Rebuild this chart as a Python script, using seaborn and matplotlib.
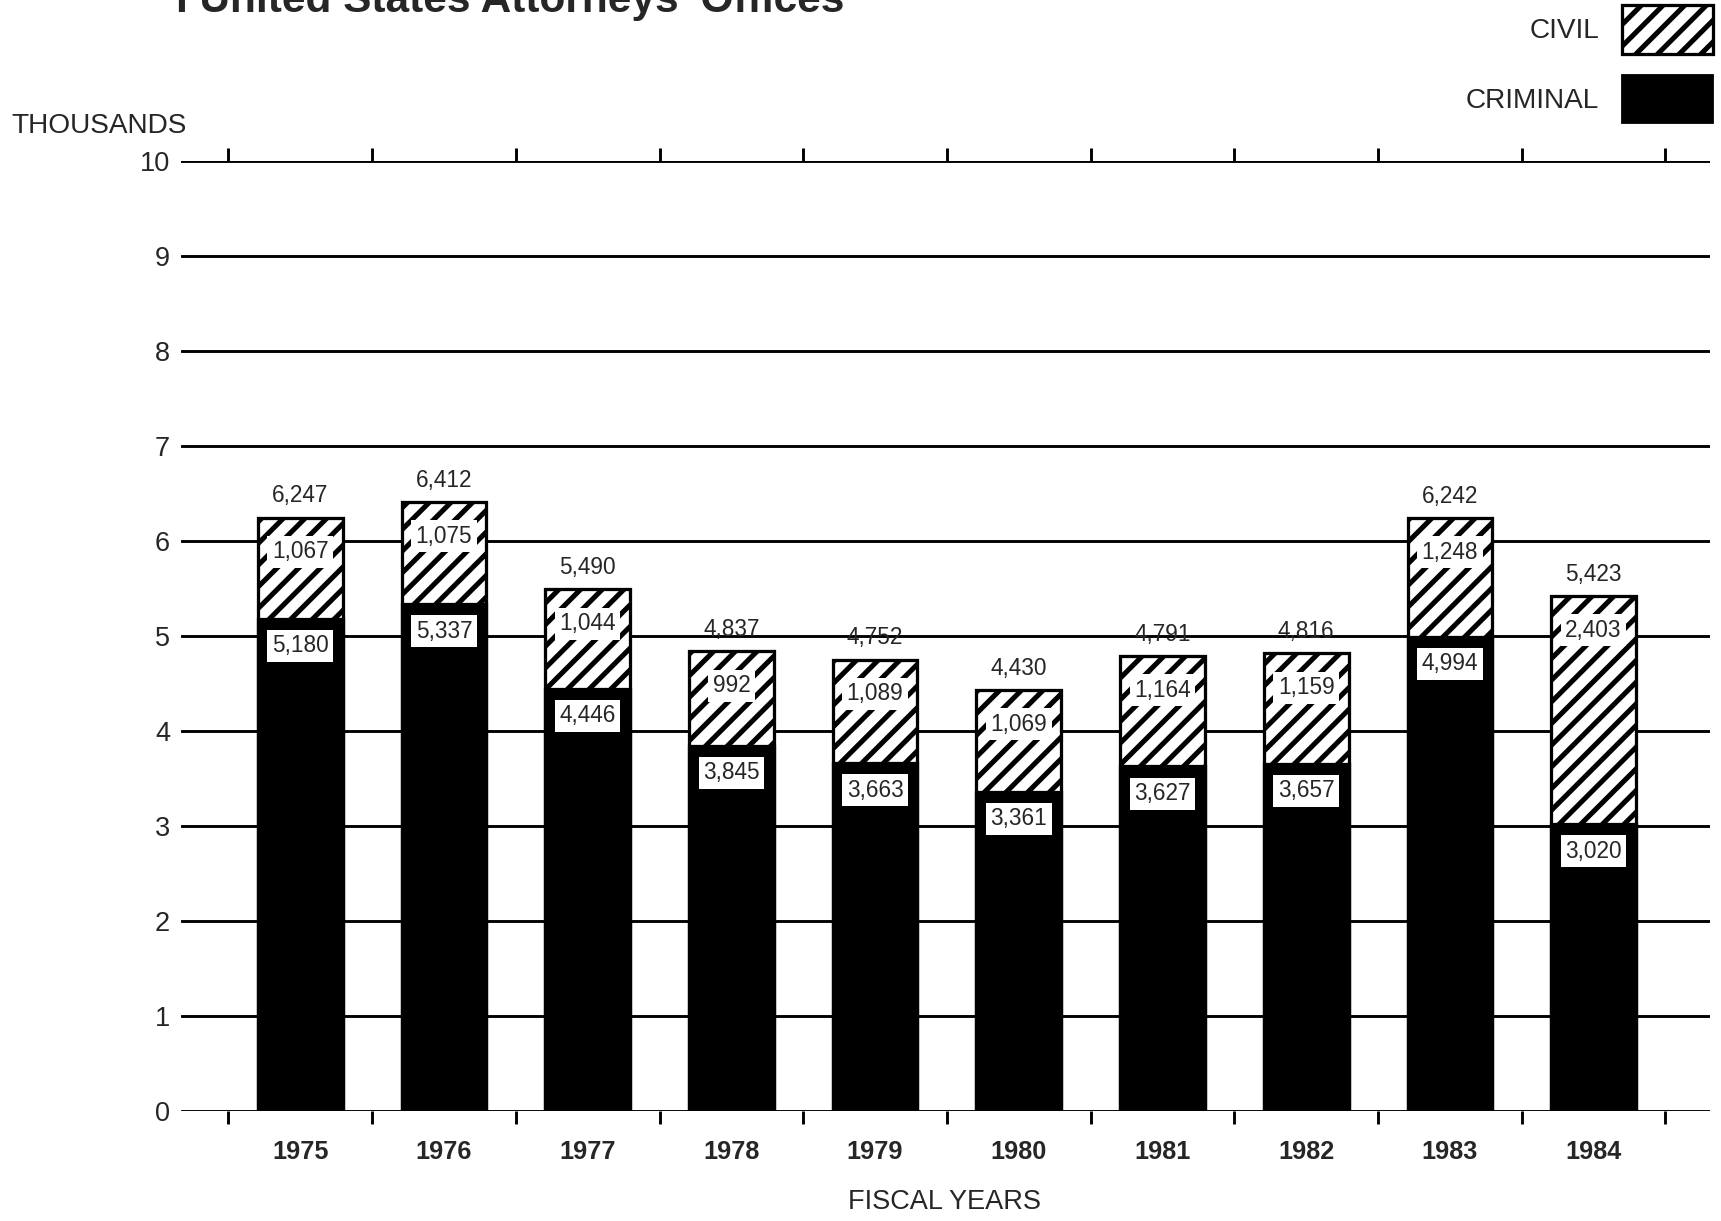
import matplotlib
matplotlib.use("Agg")
import matplotlib.pyplot as plt
import matplotlib.patches as mpatches
import seaborn as sns
import pandas as pd

# values (cases, fiscal years 1975-1984)
years = ["1975", "1976", "1977", "1978", "1979", "1980", "1981", "1982", "1983", "1984"]
criminal = [5180, 5337, 4446, 3845, 3663, 3361, 3627, 3657, 4994, 3020]
civil = [1067, 1075, 1044, 992, 1089, 1069, 1164, 1159, 1248, 2403]
y_ticks = [0, 1, 2, 3, 4, 5, 6, 7, 8, 9, 10]

df = pd.DataFrame({"year": years, "criminal": criminal, "civil": civil})
df["total"] = df["criminal"] + df["civil"]
# plot in thousands
df["crim_k"] = df["criminal"] / 1000
df["total_k"] = df["total"] / 1000

sns.set_style("white")
plt.rcParams["font.family"] = ["Liberation Sans", "DejaVu Sans"]
plt.rcParams["hatch.linewidth"] = 2.8

DPI = 130
fig = plt.figure(figsize=(1721 / DPI, 1221 / DPI), dpi=DPI)
ax = fig.add_axes([181 / 1721, 110 / 1221, (1710 - 181) / 1721, (1111 - 161) / 1221])

# civil on top: draw the total as a hatched bar, then criminal over it
sns.barplot(data=df, x="year", y="total_k", color="white", edgecolor="black",
            linewidth=1.8, hatch="//", width=0.59, saturation=1, ax=ax, zorder=3)
sns.barplot(data=df, x="year", y="crim_k", color="black", edgecolor="black",
            linewidth=1.8, width=0.59, saturation=1, ax=ax, zorder=4)

ax.set_ylim(0, 10)
ax.set_xlim(-0.83, 9.81)
for s in ax.spines.values():
    s.set_visible(False)

ax.set_yticks(y_ticks)
ax.set_yticklabels([str(t) for t in y_ticks], fontsize=15)
ax.tick_params(axis="y", length=0, pad=6)
ax.yaxis.grid(True, color="black", linewidth=1.6, zorder=1)
ax.xaxis.grid(False)
ax.set_axisbelow(True)

# tick marks between bars (top and bottom), year labels under bars
ax.set_xticks([i - 0.5 for i in range(11)])
ax.set_xticklabels([])
ax.set_xticks(range(len(years)), minor=True)
ax.set_xticklabels(years, minor=True, fontsize=14, fontweight="bold")
ax.tick_params(axis="x", which="major", direction="out", length=7, width=1.6,
               color="black", top=True, bottom=True)
ax.tick_params(axis="x", which="minor", length=0, pad=16)
ax.set_xlabel("")
ax.set_ylabel("")

box = dict(boxstyle="square,pad=0.2", facecolor="white", edgecolor="none")
for i, row in df.iterrows():
    ax.annotate(f"{row['total']:,}", (i, row["total_k"]), xytext=(0, 12),
                textcoords="offset points", ha="center", va="center", fontsize=12.5,
                zorder=6)
    ax.annotate(f"{row['civil']:,}", (i, row["total_k"]), xytext=(0, -19),
                textcoords="offset points", ha="center", va="center", fontsize=12.5,
                bbox=box, zorder=6)
    ax.annotate(f"{row['criminal']:,}", (i, row["crim_k"]), xytext=(0, -15),
                textcoords="offset points", ha="center", va="center", fontsize=12.5,
                bbox=box, zorder=6)

fig.text(176 / 1721, 1 - 12 / 1221, "I United States Attorneys' Offices",
         fontsize=23.5, fontweight="bold", va="baseline", ha="left")
fig.text(11 / 1721, 1 - 126 / 1221, "THOUSANDS", fontsize=15.5, va="center", ha="left")
fig.text(944 / 1721, 1 - 1202 / 1221, "FISCAL YEARS", fontsize=15, va="center",
         ha="center")

handles = [mpatches.Patch(facecolor="white", edgecolor="black", hatch="//",
                          linewidth=1.8, label="CIVIL"),
           mpatches.Patch(facecolor="black", edgecolor="black", label="CRIMINAL")]
ax.legend(handles=handles, loc="upper right", bbox_to_anchor=(1713 / 1721, 1 - 5 / 1221),
          bbox_transform=fig.transFigure, frameon=False, markerfirst=False,
          fontsize=15.5, handlelength=3.25, handleheight=2.3, labelspacing=0.75,
          handletextpad=0.82, borderpad=0, borderaxespad=0)

fig.savefig("out.png", dpi=DPI)
